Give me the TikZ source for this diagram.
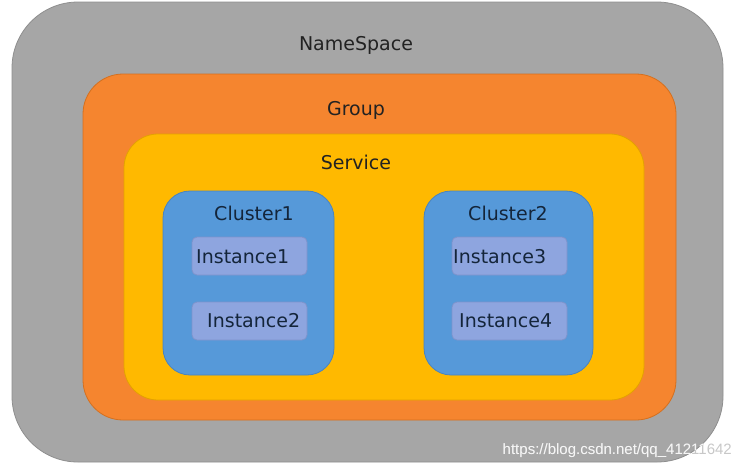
\documentclass[tikz,border=0pt]{standalone}
\usepackage{fontspec}
\setmainfont{DejaVu Sans}
\newfontfamily\wmfont{Liberation Sans}
\definecolor{nsfill}{HTML}{A6A6A6}
\definecolor{nsline}{HTML}{8E8E8E}
\definecolor{grpfill}{HTML}{F5852F}
\definecolor{grpline}{HTML}{D4701F}
\definecolor{svcfill}{HTML}{FFB900}
\definecolor{svcline}{HTML}{E3A200}
\definecolor{clfill}{HTML}{5699D9}
\definecolor{clline}{HTML}{4A84BE}
\definecolor{infill}{HTML}{8EA5DF}
\definecolor{inline}{HTML}{7D93CC}
\definecolor{txt}{HTML}{222222}
\definecolor{cltxt}{HTML}{14253A}
\definecolor{wmgray}{HTML}{C8C8C8}
\begin{document}
\begin{tikzpicture}[x=1pt,y=-1pt,
  box/.style={draw, line width=0.8pt, anchor=north west, inner sep=0pt, outer sep=0pt},
  nsbox/.style={box, fill=nsfill, draw=nsline, rounded corners=66pt},
  grpbox/.style={box, fill=grpfill, draw=grpline, rounded corners=40pt},
  svcbox/.style={box, fill=svcfill, draw=svcline, rounded corners=34pt},
  clbox/.style={box, fill=clfill, draw=clline, rounded corners=27pt},
  inbox/.style={box, fill=infill, draw=inline, rounded corners=5pt},
  lbl/.style={anchor=base, inner sep=0pt, font=\fontsize{19}{22}\selectfont, text=txt},
  cllbl/.style={lbl, text=cltxt},
  inlbl/.style={anchor=base west, inner sep=0pt, font=\fontsize{19}{22}\selectfont, text=cltxt},
  wmlbl/.style={anchor=base east, inner sep=0pt, font=\wmfont\fontsize{15}{18}\selectfont}
]
\useasboundingbox (0,0) rectangle (741,467);
\fill[white] (0,0) rectangle (741,467);
\node[nsbox, minimum width=711pt, minimum height=460pt] (ns) at (12,2) {};
\node[grpbox, minimum width=593pt, minimum height=346pt] (grp) at (83,74) {};
\node[svcbox, minimum width=520pt, minimum height=266pt] (svc) at (124,134) {};
\node[clbox, minimum width=171pt, minimum height=184pt] (c1) at (163,191) {};
\node[clbox, minimum width=169pt, minimum height=184pt] (c2) at (424,191) {};
\node[inbox, minimum width=115pt, minimum height=38pt] (i1) at (192,237) {};
\node[inbox, minimum width=115pt, minimum height=38pt] (i2) at (192,302) {};
\node[inbox, minimum width=115pt, minimum height=38pt] (i3) at (452,237) {};
\node[inbox, minimum width=115pt, minimum height=38pt] (i4) at (452,302) {};
\node[lbl] (nslbl) at (356,50) {NameSpace};
\node[lbl] (grplbl) at (356,115) {Group};
\node[lbl] (svclbl) at (356,169) {Service};
\node[cllbl] (c1lbl) at (254,220) {Cluster1};
\node[cllbl] (c2lbl) at (508,220) {Cluster2};
\node[inlbl] (i1lbl) at (196,263) {Instance1};
\node[inlbl] (i2lbl) at (207,327) {Instance2};
\node[inlbl] (i3lbl) at (453,263) {Instance3};
\node[inlbl] (i4lbl) at (459,327) {Instance4};
\node[wmlbl, text=wmgray] (wm) at (732,454) {https://blog.csdn.net/qq\_41211642};
\begin{scope}
  \clip[rounded corners=66pt] (12,2) rectangle (723,462);
  \node[wmlbl, text=white, opacity=0.85] (wmw) at (732,454) {https://blog.csdn.net/qq\_41211642};
\end{scope}
\end{tikzpicture}
\end{document}
